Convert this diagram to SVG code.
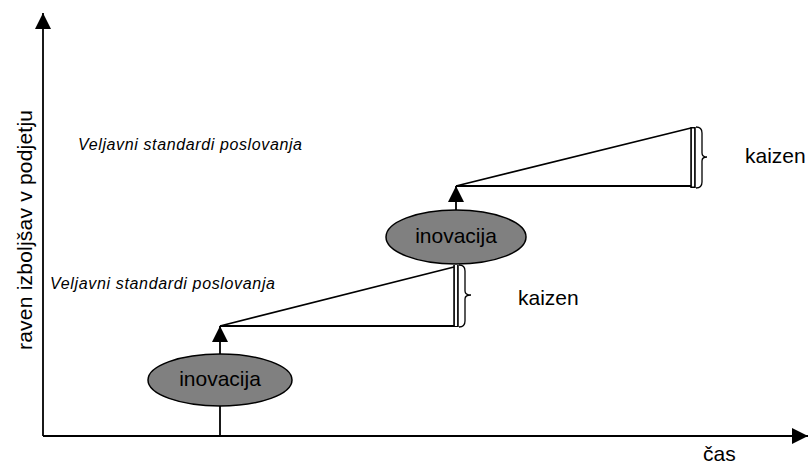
<svg xmlns="http://www.w3.org/2000/svg" width="809" height="465" viewBox="0 0 809 465">
  <style>
    .ln { stroke: #000; stroke-width: 1.8; fill: none; }
    .thin { stroke: #000; stroke-width: 1.3; fill: none; }
    .node ellipse { fill: #808080; stroke: #000; stroke-width: 1.5; }
    .lbl { font-family: "Liberation Sans", Arial, sans-serif; font-size: 21px; fill: #000; }
    .std { font-family: "Liberation Sans", Arial, sans-serif; font-size: 16px; font-style: italic; fill: #000; }
  </style>
  <defs>
    <marker id="arr" viewBox="0 0 16 16" refX="16" refY="8" markerWidth="16" markerHeight="16" markerUnits="userSpaceOnUse" orient="auto">
      <path d="M0,0 L16,8 L0,16 Z" fill="#000"/>
    </marker>
  </defs>
  <rect width="809" height="465" fill="#fff"/>

  <!-- axes -->
  <g id="axes">
    <line class="ln" x1="43" y1="436" x2="43" y2="13" marker-end="url(#arr)"/>
    <line class="ln" x1="43" y1="436" x2="808" y2="436" marker-end="url(#arr)"/>
    <text class="lbl" x="703" y="461">čas</text>
    <text class="lbl" transform="translate(32,230) rotate(-90)" text-anchor="middle" textLength="240" lengthAdjust="spacing">raven izboljšav v podjetju</text>
  </g>

  <!-- connectors: innovation jumps and kaizen wedges -->
  <g id="connectors">
    <!-- lower step -->
    <line class="ln" x1="220" y1="436" x2="220" y2="326" marker-end="url(#arr)"/>
    <line class="ln" x1="220" y1="326" x2="454" y2="267"/>
    <line class="ln" x1="220" y1="326" x2="454" y2="326"/>
    <line stroke="#000" stroke-width="5.5" x1="456" y1="265" x2="456" y2="327"/>
    <line stroke="#fff" stroke-width="2.2" x1="456" y1="265" x2="456" y2="326"/>
    <path class="thin" d="M459,265 Q465,265 465,271 L465,291 Q465,295 471,295 Q465,295 465,299 L465,321 Q465,327 459,327"/>
    <!-- upper step -->
    <line class="ln" x1="456" y1="264" x2="456" y2="186" marker-end="url(#arr)"/>
    <line class="ln" x1="456" y1="186" x2="691" y2="128"/>
    <line class="ln" x1="456" y1="186" x2="691" y2="186"/>
    <line stroke="#000" stroke-width="5.5" x1="693" y1="127" x2="693" y2="188"/>
    <line stroke="#fff" stroke-width="2.2" x1="693" y1="128.5" x2="693" y2="186.5"/>
    <path class="thin" d="M696,127 Q702,127 702,133 L702,153 Q702,157 707,157 Q702,157 702,161 L702,182 Q702,188 696,188"/>
  </g>

  <g id="innovation-1" class="node">
    <ellipse cx="220" cy="380" rx="72" ry="26"/>
    <text class="lbl" x="220" y="386" text-anchor="middle">inovacija</text>
  </g>
  <g id="innovation-2" class="node">
    <ellipse cx="456" cy="237" rx="70" ry="27"/>
    <text class="lbl" x="456" y="243" text-anchor="middle">inovacija</text>
  </g>

  <g id="kaizen-1">
    <text class="lbl" x="518" y="305">kaizen</text>
  </g>
  <g id="kaizen-2">
    <text class="lbl" x="745" y="163">kaizen</text>
  </g>

  <g id="standard-1">
    <text class="std" x="50" y="289" textLength="225" lengthAdjust="spacing">Veljavni standardi poslovanja</text>
  </g>
  <g id="standard-2">
    <text class="std" x="78" y="150" textLength="224" lengthAdjust="spacing">Veljavni standardi poslovanja</text>
  </g>
</svg>
